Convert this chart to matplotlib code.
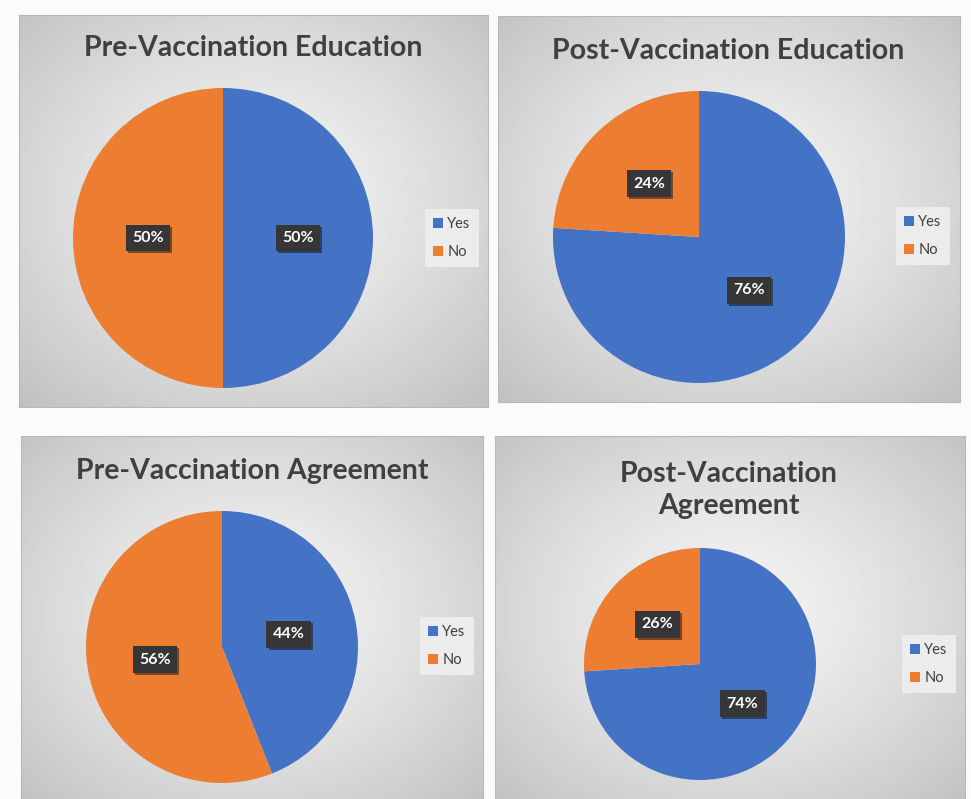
import matplotlib
matplotlib.use("Agg")
import matplotlib.pyplot as plt
import matplotlib.patheffects as pe
import numpy as np

W, H = 971, 799

titles = [
    "Pre-Vaccination Education",
    "Post-Vaccination Education",
    "Pre-Vaccination Agreement",
    "Post-Vaccination\nAgreement",
]
categories = ["Yes", "No"]
yes_pct = [50, 76, 44, 74]
no_pct = [50, 24, 56, 26]

colors = ["#4472C4", "#ED7D31"]

# layout in pixels of the source image
panels = [
    dict(box=(19, 15, 488, 407), center=(223, 238), r=150, title=(253, 48), legend=(452, 238)),
    dict(box=(498, 16, 960, 402), center=(699, 237), r=146, title=(728, 51), legend=(923, 236)),
    dict(box=(21, 436, 483, 812), center=(222, 647), r=136, title=(252, 471), legend=(447, 646)),
    dict(box=(495, 436, 965, 812), center=(700, 664), r=116, title=(729, 490), legend=(929, 664)),
]


def px_rect(x0, y0, x1, y1):
    return [x0 / W, 1 - y1 / H, (x1 - x0) / W, (y1 - y0) / H]


def gradient(w, h):
    xx, yy = np.meshgrid(np.linspace(-1, 1, w), np.linspace(-1, 1, h))
    d = np.sqrt(xx ** 2 + (yy + 0.05) ** 2) / np.sqrt(2)
    return 0.96 - 0.2 * d ** 1.3


def main():
    plt.rcParams["font.family"] = ["Lato", "DejaVu Sans"]
    fig = plt.figure(figsize=(W / 100, H / 100), dpi=100)
    fig.patch.set_facecolor("#fbfbfb")

    for i, p in enumerate(panels):
        x0, y0, x1, y1 = p["box"]
        bg = fig.add_axes(px_rect(x0, y0, x1, y1))
        bg.imshow(gradient(x1 - x0, y1 - y0), extent=[0, 1, 0, 1], aspect="auto",
                  cmap="gray", vmin=0, vmax=1, interpolation="bilinear")
        bg.set_xlim(0, 1)
        bg.set_ylim(0, 1)
        bg.set_xticks([])
        bg.set_yticks([])
        for s in bg.spines.values():
            s.set_color("#b8b8b8")
            s.set_linewidth(0.8)

        cx, cy = p["center"]
        r = p["r"]
        ax = fig.add_axes(px_rect(cx - r, cy - r, cx + r, cy + r))
        ax.patch.set_alpha(0)
        wedges, _, autotexts = ax.pie(
            [yes_pct[i], no_pct[i]],
            colors=colors,
            startangle=90,
            counterclock=False,
            autopct=lambda v: f"{v:.0f}%",
            pctdistance=0.5,
            wedgeprops=dict(linewidth=0),
            textprops=dict(color="white", fontsize=11.5, fontweight="bold"),
        )
        ax.set_xlim(-1, 1)
        ax.set_ylim(-1, 1)
        for t in autotexts:
            t.set_bbox(dict(boxstyle="square,pad=0.4", facecolor="#363636", edgecolor="none"))
            t.get_bbox_patch().set_path_effects(
                [pe.SimplePatchShadow(offset=(1.5, -1.5), alpha=0.5), pe.Normal()])

        tx, ty = p["title"]
        fig.text(tx / W, 1 - ty / H, titles[i], ha="center", va="center",
                 fontsize=20.5, fontweight="bold", color="#404040", linespacing=1.3)

        lx, ly = p["legend"]
        leg = ax.legend(wedges, categories, loc="center",
                        bbox_to_anchor=(lx / W, 1 - ly / H), bbox_transform=fig.transFigure,
                        fontsize=10.5, frameon=True, fancybox=False,
                        handlelength=0.65, handleheight=0.65, handletextpad=0.3,
                        labelspacing=0.95, borderpad=0.55, labelcolor="#404040")
        leg.get_frame().set_facecolor("#ececec")
        leg.get_frame().set_edgecolor("none")
        leg.get_frame().set_alpha(1)

    fig.savefig("out.png", dpi=100, facecolor=fig.get_facecolor())


if __name__ == "__main__":
    main()
